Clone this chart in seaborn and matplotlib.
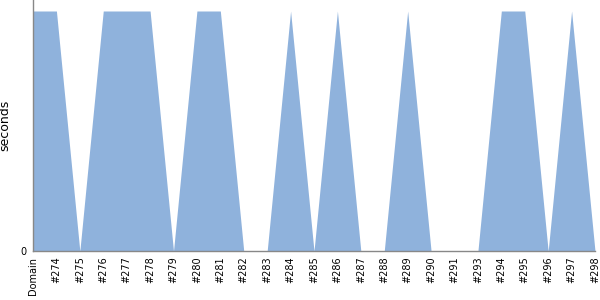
import matplotlib
matplotlib.use("Agg")
import matplotlib.pyplot as plt
import seaborn as sns
import pandas as pd

labels = ["Domain", "#274", "#275", "#276", "#277", "#278", "#279", "#280", "#281",
          "#282", "#283", "#284", "#285", "#286", "#287", "#288", "#289", "#290",
          "#291", "#293", "#294", "#295", "#296", "#297", "#298"]
seconds = [1, 1, 0, 1, 1, 1, 0, 1, 1, 0, 0, 1, 0, 1, 0, 0, 1, 0, 0, 0, 1, 1, 0, 1, 0]

sns.set_theme(style="white")
plt.rcParams['font.family'] = ['DejaVu Sans']
plt.rcParams['text.color'] = 'black'
plt.rcParams['axes.labelcolor'] = 'black'
plt.rcParams['xtick.color'] = 'black'
plt.rcParams['ytick.color'] = 'black'

df = pd.DataFrame({"build": labels, "seconds": seconds})
df["pos"] = range(len(df))

fig = plt.figure(figsize=(6, 3), dpi=100)
ax = fig.add_axes([33/600, 1 - 251/300, (595 - 33)/600, 251/300])
sns.lineplot(data=df, x="pos", y="seconds", ax=ax, color="#8fb2dc", linewidth=0)
ax.fill_between(df["pos"], 0, df["seconds"], color="#8fb2dc", linewidth=0)

ax.set_xlim(0, len(labels) - 1)
ax.set_ylim(0, max(seconds) * 251 / 240)
ax.set_xticks(df["pos"])
ax.set_xticklabels(labels, rotation=90, fontsize=7)
ax.set_yticks([0])
ax.set_yticklabels(["0"], fontsize=7)
ax.set_xlabel("")
ax.set_ylabel("seconds", fontsize=9, labelpad=6)
ax.tick_params(axis="x", length=0, pad=4)
ax.tick_params(axis="y", length=3, width=0.8, color="#888888", pad=2)
for s in ["top", "right"]:
    ax.spines[s].set_visible(False)
for s in ["left", "bottom"]:
    ax.spines[s].set_color("#888888")
    ax.spines[s].set_linewidth(1)

fig.savefig("out.png", dpi=100)
